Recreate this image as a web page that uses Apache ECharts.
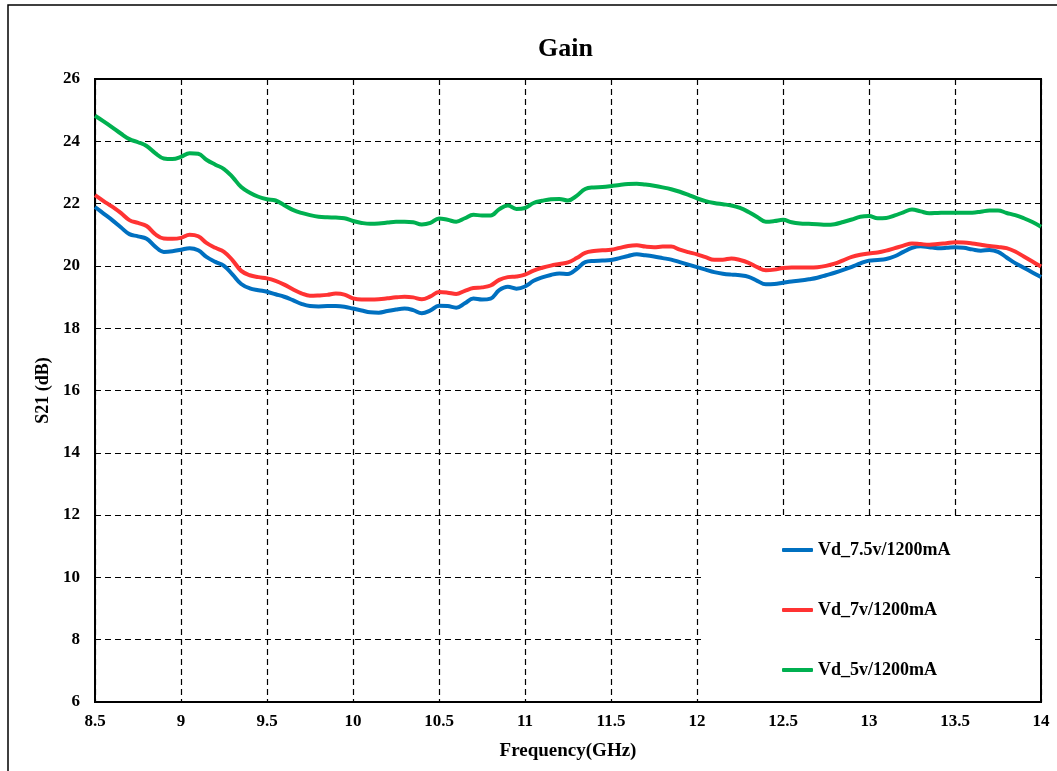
<!DOCTYPE html>
<html>
<head>
<meta charset="utf-8">
<script src="https://cdn.jsdelivr.net/npm/echarts@6/dist/echarts.min.js"></script>
<style>
html,body{margin:0;padding:0;background:#fff;}
#chart{width:1057px;height:771px;}
</style>
</head>
<body>
<div id="chart"></div>
<script>
const freq = [8.50,8.55,8.60,8.65,8.70,8.75,8.80,8.85,8.90,8.95,
9.00,9.05,9.10,9.15,9.20,9.25,9.30,9.35,9.40,9.45,
9.50,9.55,9.60,9.65,9.70,9.75,9.80,9.85,9.90,9.95,
10.00,10.05,10.10,10.15,10.20,10.25,10.30,10.35,10.40,10.45,
10.50,10.55,10.60,10.65,10.70,10.75,10.80,10.85,10.90,10.95,
11.00,11.05,11.10,11.15,11.20,11.25,11.30,11.35,11.40,11.45,
11.50,11.55,11.60,11.65,11.70,11.75,11.80,11.85,11.90,11.95,
12.00,12.05,12.10,12.15,12.20,12.25,12.30,12.35,12.40,12.45,
12.50,12.55,12.60,12.65,12.70,12.75,12.80,12.85,12.90,12.95,
13.00,13.05,13.10,13.15,13.20,13.25,13.30,13.35,13.40,13.45,
13.50,13.55,13.60,13.65,13.70,13.75,13.80,13.85,13.90,13.95,14.00];

const gain75 = [21.89,21.68,21.47,21.24,21.02,20.95,20.87,20.62,20.45,20.47,
20.52,20.57,20.50,20.28,20.13,20.00,19.72,19.42,19.28,19.22,
19.17,19.09,19.01,18.90,18.78,18.71,18.70,18.71,18.71,18.69,
18.63,18.57,18.51,18.50,18.55,18.60,18.63,18.58,18.48,18.57,
18.72,18.71,18.66,18.80,18.95,18.92,18.95,19.22,19.33,19.27,
19.34,19.52,19.63,19.71,19.76,19.74,19.90,20.12,20.16,20.17,
20.19,20.25,20.32,20.37,20.34,20.30,20.25,20.20,20.12,20.04,
19.96,19.88,19.80,19.75,19.72,19.70,19.65,19.52,19.41,19.42,
19.46,19.50,19.53,19.57,19.62,19.70,19.78,19.87,19.97,20.08,
20.17,20.19,20.22,20.31,20.45,20.58,20.63,20.60,20.57,20.58,
20.60,20.58,20.53,20.49,20.51,20.45,20.27,20.09,19.94,19.79,19.64];

const gain7 = [22.27,22.08,21.90,21.70,21.47,21.38,21.28,21.02,20.88,20.87,
20.90,21.00,20.95,20.73,20.58,20.45,20.18,19.84,19.70,19.64,
19.60,19.52,19.40,19.25,19.12,19.04,19.05,19.07,19.11,19.08,
18.96,18.92,18.92,18.93,18.96,18.99,19.01,18.99,18.93,19.02,
19.16,19.14,19.10,19.20,19.29,19.31,19.37,19.55,19.64,19.66,
19.72,19.85,19.94,20.01,20.06,20.11,20.25,20.42,20.48,20.50,
20.52,20.58,20.64,20.66,20.62,20.60,20.62,20.62,20.52,20.44,
20.37,20.28,20.20,20.20,20.24,20.19,20.10,19.96,19.86,19.88,
19.93,19.95,19.95,19.95,19.96,20.00,20.07,20.18,20.29,20.36,
20.40,20.43,20.49,20.57,20.65,20.72,20.70,20.68,20.70,20.73,
20.76,20.75,20.72,20.68,20.64,20.61,20.57,20.46,20.30,20.14,19.98];

const gain5 = [24.82,24.64,24.45,24.25,24.07,23.97,23.85,23.62,23.45,23.43,
23.50,23.62,23.60,23.40,23.25,23.11,22.85,22.53,22.35,22.22,
22.14,22.10,21.95,21.80,21.70,21.63,21.58,21.56,21.55,21.53,
21.44,21.38,21.35,21.36,21.39,21.42,21.42,21.40,21.33,21.38,
21.52,21.48,21.42,21.53,21.64,21.62,21.62,21.82,21.94,21.83,
21.86,22.02,22.09,22.14,22.15,22.10,22.25,22.47,22.52,22.53,
22.56,22.60,22.63,22.64,22.61,22.57,22.52,22.46,22.38,22.28,
22.17,22.08,22.02,21.98,21.94,21.86,21.73,21.57,21.42,21.44,
21.48,21.40,21.36,21.35,21.34,21.32,21.34,21.41,21.49,21.58,
21.60,21.53,21.54,21.62,21.72,21.81,21.75,21.69,21.70,21.71,
21.71,21.71,21.71,21.74,21.78,21.78,21.70,21.63,21.53,21.41,21.26];

const seriesNames = ['Vd_7.5v/1200mA','Vd_7v/1200mA','Vd_5v/1200mA'];
const seriesColors = ['#0070C0','#FF3333','#00B050'];
const seriesValues = [gain75, gain7, gain5];

const FONT = '"Liberation Serif", "Times New Roman", serif';

const chart = echarts.init(document.getElementById('chart'));
chart.setOption({
  animation: false,
  backgroundColor: '#fff',
  title: {
    text: 'Gain',
    left: 533,
    top: 31,
    textStyle: {fontFamily: FONT, fontWeight: 'bold', fontSize: 26, color: '#000'}
  },
  graphic: [{
    type: 'rect',
    z: 0,
    shape: {x: 8, y: 5, width: 1100, height: 800},
    style: {fill: 'none', stroke: '#000', lineWidth: 1.5},
    silent: true
  }, {
    type: 'rect',
    z: 3,
    shape: {x: 702, y: 517, width: 332, height: 184},
    style: {fill: '#fff'},
    silent: true
  }],
  grid: {
    left: 95, right: 16, top: 79, bottom: 69,
    show: true, borderColor: '#000', borderWidth: 2, backgroundColor: 'transparent'
  },
  legend: {
    orient: 'vertical',
    left: 702, top: 518,
    padding: [22, 10, 21, 80],
    itemWidth: 31, itemHeight: 4,
    itemGap: 40,
    icon: 'roundRect',
    z: 5,
    textStyle: {fontFamily: FONT, fontWeight: 'bold', fontSize: 18, color: '#000', lineHeight: 20},
    data: seriesNames
  },
  xAxis: {
    type: 'value',
    min: 8.5, max: 14, interval: 0.5,
    name: 'Frequency(GHz)',
    nameLocation: 'middle',
    nameGap: 40,
    nameTextStyle: {fontFamily: FONT, fontWeight: 'bold', fontSize: 19, color: '#000'},
    axisLine: {show: true, lineStyle: {color: '#000', width: 2}},
    axisTick: {show: false},
    axisLabel: {fontFamily: FONT, fontWeight: 'bold', fontSize: 17, color: '#000', margin: 11},
    splitLine: {show: true, lineStyle: {color: '#000', width: 1.2, type: [6, 4]}}
  },
  yAxis: {
    type: 'value',
    min: 6, max: 26, interval: 2,
    name: 'S21 (dB)',
    nameLocation: 'middle',
    nameGap: 42,
    nameTextStyle: {fontFamily: FONT, fontWeight: 'bold', fontSize: 18, color: '#000'},
    axisLine: {show: true, lineStyle: {color: '#000', width: 2}},
    axisTick: {show: false},
    axisLabel: {fontFamily: FONT, fontWeight: 'bold', fontSize: 17, color: '#000', margin: 15},
    splitLine: {show: true, lineStyle: {color: '#000', width: 1.2, type: [6, 4]}}
  },
  series: seriesNames.map((name, i) => ({
    name: name,
    type: 'line',
    smooth: 0.4,
    showSymbol: false,
    symbol: 'none',
    color: seriesColors[i],
    lineStyle: {color: seriesColors[i], width: 4},
    data: freq.map((f, j) => [f, seriesValues[i][j]])
  }))
});
</script>
</body>
</html>
